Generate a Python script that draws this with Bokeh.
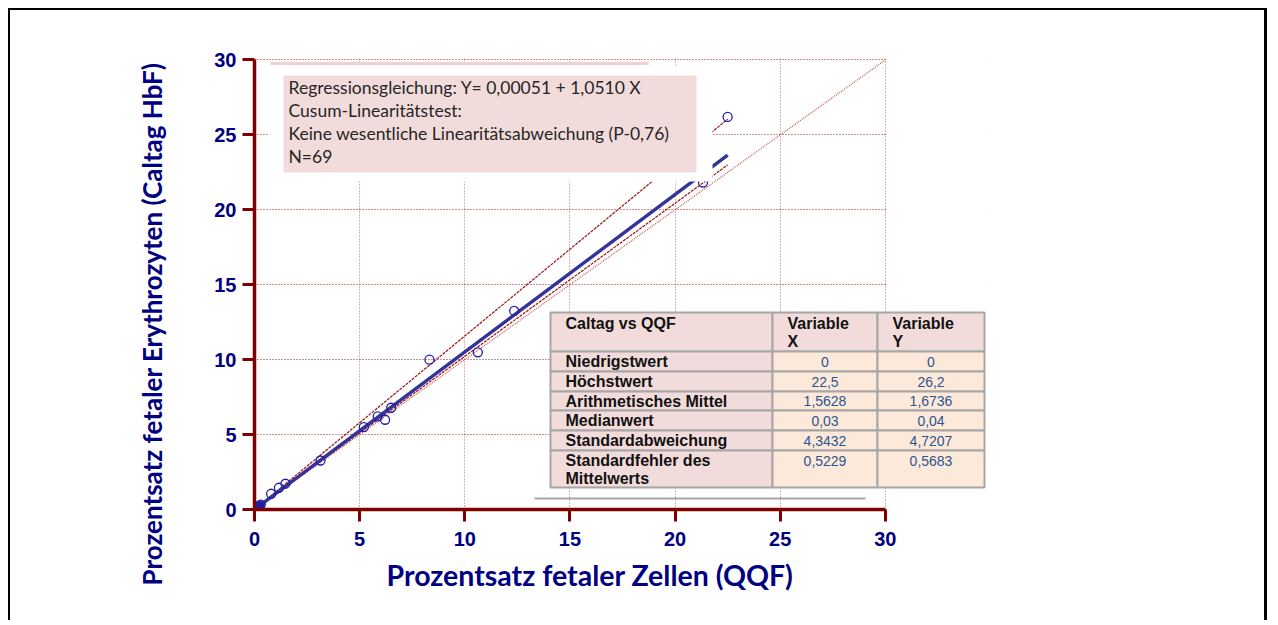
from bokeh.plotting import figure
from bokeh.models import Range1d, FixedTicker, Title
from bokeh.core.properties import value
from bokeh.embed import file_html
from bokeh.resources import INLINE

# ---------------- data ----------------
qqf_main = [0.79, 1.16, 1.47, 3.14, 5.20, 5.86, 6.21, 6.50, 8.32, 10.62, 12.35, 21.33, 22.50]
caltag_main = [1.05, 1.45, 1.72, 3.27, 5.50, 6.21, 5.99, 6.79, 10.00, 10.49, 13.25, 21.82, 26.20]
qqf_low = [
    0, 0, 0, 0, 0, 0, 0, 0,
    0, 0, 0.01, 0.01, 0.01, 0.01, 0.01, 0.02,
    0.02, 0.02, 0.02, 0.02, 0.02, 0.03, 0.03, 0.03,
    0.03, 0.03, 0.03, 0.03, 0.03, 0.03, 0.03, 0.03,
    0.03, 0.03, 0.04, 0.04, 0.04, 0.04, 0.05, 0.05,
    0.05, 0.06, 0.06, 0.07, 0.08, 0.09, 0.10, 0.11,
    0.12, 0.14, 0.16, 0.18, 0.20, 0.22, 0.25, 0.30]
caltag_low = [
    0, 0, 0, 0, 0, 0, 0, 0,
    0.01, 0.01, 0.01, 0.02, 0.02, 0.02, 0.02, 0.02,
    0.03, 0.03, 0.03, 0.03, 0.03, 0.03, 0.04, 0.04,
    0.04, 0.04, 0.04, 0.04, 0.04, 0.04, 0.04, 0.04,
    0.05, 0.05, 0.05, 0.05, 0.05, 0.06, 0.06, 0.06,
    0.07, 0.07, 0.08, 0.09, 0.10, 0.11, 0.12, 0.12,
    0.13, 0.15, 0.18, 0.19, 0.21, 0.24, 0.27, 0.33]

reg_intercept = 0.00051
reg_slope = 1.0510
fit_x = [0.0, 22.5]
ci_upper_slope = 1.158
ci_lower_slope = 1.022
identity_xy = [0.0, 30.0]
ticks = [0, 5, 10, 15, 20, 25, 30]

note_lines = [
    "Regressionsgleichung: Y= 0,00051 + 1,0510 X",
    "Cusum-Linearitätstest:",
    "Keine wesentliche Linearitätsabweichung (P-0,76)",
    "N=69",
]
table_title = "Caltag vs QQF"
table_cols = ["Variable", "Variable"]
table_cols2 = ["X", "Y"]
stat_names = ["Niedrigstwert", "Höchstwert", "Arithmetisches Mittel", "Medianwert",
              "Standardabweichung", "Standardfehler des"]
stat_names2 = ["", "", "", "", "", "Mittelwerts"]
stat_x = ["0", "22,5", "1,5628", "0,03", "4,3432", "0,5229"]
stat_y = ["0", "26,2", "1,6736", "0,04", "4,7207", "0,5683"]

x_title = "Prozentsatz fetaler Zellen (QQF)"
y_title = "Prozentsatz fetaler Erythrozyten (Caltag HbF)"

# ---------------- layout helpers (page pixels -> data units) ----------------
FRAME_W, FRAME_H = 736, 451
X_END, Y_END = 35.0, 30.1
X0_PX, PX_PER_X = 254.0, FRAME_W / X_END
Y0_PX, PX_PER_Y = 509.0, FRAME_H / Y_END


def dx(px):
    return (px - X0_PX) / PX_PER_X


def dy(py):
    return (Y0_PX - py) / PX_PER_Y


DARKRED = "#7F0000"
NAVY = "#000080"
PINK = "#F2DCDB"
PEACH = "#FDE9D9"

W, H = 1259, 612
ML, MT = 244, 48
p = figure(width=W, height=H, x_range=Range1d(0, X_END), y_range=Range1d(0, Y_END),
           output_backend="svg", toolbar_location=None,
           min_border_left=ML, min_border_right=W - ML - FRAME_W,
           min_border_top=MT, min_border_bottom=H - MT - FRAME_H)
p.styles = {"margin-left": "8px", "margin-top": "8px",
            "border-top": "2px solid #000", "border-left": "2px solid #000",
            "border-right": "3px solid #000"}
p.outline_line_color = None
p.background_fill_color = "white"
p.border_fill_color = "white"

for ax in (p.xaxis[0], p.yaxis[0]):
    ax.bounds = (0, 30)
    ax.ticker = FixedTicker(ticks=ticks)
    ax.axis_line_color = DARKRED
    ax.axis_line_width = 3.5
    ax.major_tick_line_color = DARKRED
    ax.major_tick_line_width = 3
    ax.major_tick_out = 12
    ax.major_tick_in = 0
    ax.minor_tick_line_color = None
    ax.major_label_text_font = "Liberation Sans"
    ax.major_label_text_font_style = "bold"
    ax.major_label_text_font_size = "20px"
    ax.major_label_text_color = NAVY
p.xaxis[0].major_label_standoff = 10
p.yaxis[0].major_label_standoff = 6

for g, col in ((p.xgrid, "#C46A6A"), (p.ygrid, "#A01E1E")):
    g.ticker = FixedTicker(ticks=ticks)
    g.bounds = (-1, 31)
    g.grid_line_color = col
    g.grid_line_dash = "1 2"
    g.grid_line_width = 1.1

# axis titles (as side-panel titles, placed like the original)
p.add_layout(Title(text=x_title, align="left", offset=132, vertical_align="top", standoff=18,
                   text_font="Lato", text_font_style="bold", text_font_size="28.5px",
                   text_color=NAVY), "below")
p.add_layout(Title(text=y_title, align="left", offset=-76, vertical_align="bottom", standoff=88,
                   text_font="Lato", text_font_style="bold", text_font_size="26px",
                   text_color=NAVY), "left")

# lines
p.line(identity_xy, identity_xy, line_color="#C45A5A", line_dash="1 1", line_width=1.2)
p.line(fit_x, [ci_upper_slope * v for v in fit_x], line_color="#A01010", line_dash="3 1", line_width=1.2)
p.line(fit_x, [ci_lower_slope * v for v in fit_x], line_color="#A01010", line_dash="3 1", line_width=1.2)
p.line(fit_x, [reg_intercept + reg_slope * v for v in fit_x], line_color="#333399", line_width=3.4)

# points
p.scatter(qqf_low + qqf_main, caltag_low + caltag_main, marker="circle", size=9,
          fill_color=None, line_color="#1F1FA8", line_width=1.3)

# white occluder behind the note box, and right of x = 30
p.quad(left=[dx(268)], right=[dx(712)], bottom=[dy(181)], top=[dy(65)],
       fill_color="white", line_color=None)
p.quad(left=[30.08], right=[X_END + 1], bottom=[-1.0], top=[Y_END + 1], fill_color="white", line_color=None)

# faint decorative strokes
p.segment(x0=[dx(270)], y0=[dy(63)], x1=[dx(648)], y1=[dy(63)], line_color="#F0D2D2", line_width=3)
p.segment(x0=[dx(534)], y0=[dy(498)], x1=[dx(865)], y1=[dy(498)], line_color="#A6A6A6", line_width=2)

# note box
p.quad(left=[dx(283)], right=[dx(696)], bottom=[dy(172)], top=[dy(75)],
       fill_color=PINK, line_color=None)
note_y_px = [87, 110, 133, 156]
p.text(x=[dx(288)] * 4, y=[dy(v) for v in note_y_px], text=note_lines,
       text_font=value("Lato"), text_font_size=value("17.5px"), text_color="#262626",
       text_align="left", text_baseline="middle")

# statistics table
col_px = [550, 772, 877, 984]
row_px = [312, 351, 371, 391, 410, 430, 450, 487]
L, R, B, T, F = [], [], [], [], []
for ri in range(len(row_px) - 1):
    for ci in range(len(col_px) - 1):
        L.append(dx(col_px[ci])); R.append(dx(col_px[ci + 1]))
        T.append(dy(row_px[ri])); B.append(dy(row_px[ri + 1]))
        F.append(PINK if (ri == 0 or ci == 0) else PEACH)
p.quad(left=L, right=R, bottom=B, top=T, fill_color=F, line_color="#A6A6A6", line_width=2)

lab_x, lab_y, lab_t = [dx(565)], [dy(323)], [table_title]
for i, name in enumerate(table_cols):
    lab_x += [dx([787, 892][i]), dx([787, 892][i])]
    lab_y += [dy(323), dy(341)]
    lab_t += [name, table_cols2[i]]
for ri in range(len(stat_names)):
    cy = 0.5 * (row_px[ri + 1] + row_px[ri + 2]) if ri < 5 else 460
    lab_x.append(dx(565)); lab_y.append(dy(cy)); lab_t.append(stat_names[ri])
    if stat_names2[ri]:
        lab_x.append(dx(565)); lab_y.append(dy(478)); lab_t.append(stat_names2[ri])
p.text(x=lab_x, y=lab_y, text=lab_t, text_font=value("Liberation Sans"), text_font_style="bold",
       text_font_size=value("16px"), text_color="#111111", text_align="left", text_baseline="middle")

val_x, val_y, val_t = [], [], []
for ri in range(len(stat_x)):
    cy = 0.5 * (row_px[ri + 1] + row_px[ri + 2]) if ri < 5 else 460
    val_x += [dx(824.5), dx(930.5)]
    val_y += [dy(cy), dy(cy)]
    val_t += [stat_x[ri], stat_y[ri]]
p.text(x=val_x, y=val_y, text=val_t, text_font=value("Liberation Sans"),
       text_font_size=value("14px"), text_color="#2B5590", text_align="center", text_baseline="middle")

open("out.html", "w").write(file_html(p, INLINE))
